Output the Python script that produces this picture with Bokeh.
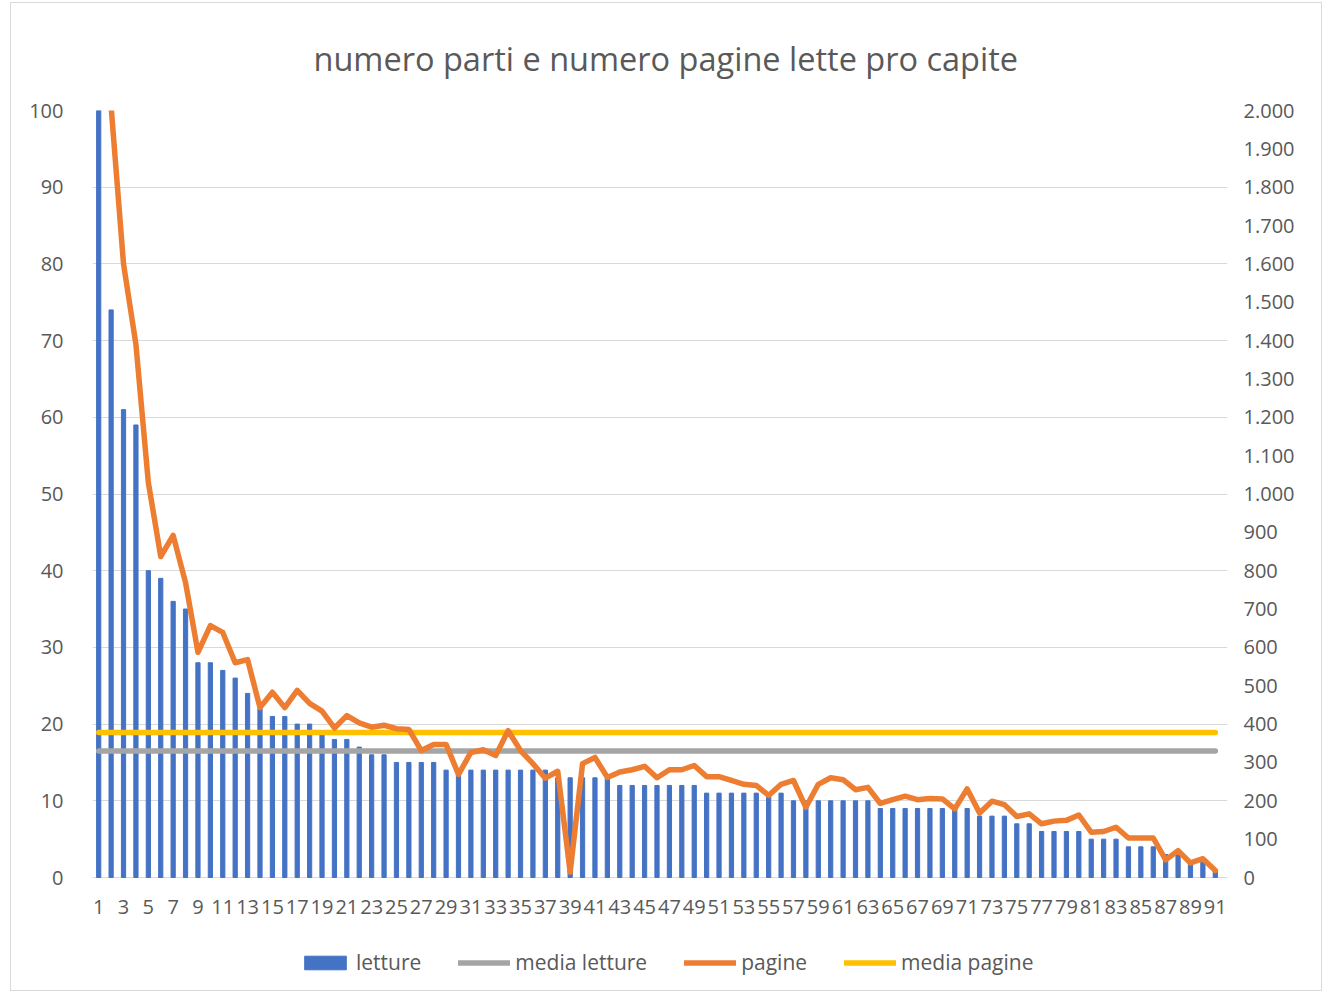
from bokeh.plotting import figure
from bokeh.models import Range1d, LinearAxis, FixedTicker, Legend, LegendItem, Title
from bokeh.embed import file_html
from bokeh.resources import INLINE

# ---------------- data ----------------
categorie = list(range(1, 92))

letture = [160, 74, 61, 59, 40, 39, 36, 35, 28, 28,
           27, 26, 24, 22, 21, 21, 20, 20, 19, 18,
           18, 17, 16, 16, 15, 15, 15, 15, 14, 14,
           14, 14, 14, 14, 14, 14, 14, 13, 13, 13,
           13, 13, 12, 12, 12, 12, 12, 12, 12, 11,
           11, 11, 11, 11, 11, 11, 10, 10, 10, 10,
           10, 10, 10, 9, 9, 9, 9, 9, 9, 9,
           9, 8, 8, 8, 7, 7, 6, 6, 6, 6,
           5, 5, 5, 4, 4, 4, 3, 3, 2, 2,
           1]

pagine = [3280, 2010, 1600, 1390, 1030, 837, 892, 769, 587, 657,
          639, 560, 568, 443, 483, 443, 488, 454, 434, 390,
          422, 403, 392, 397, 388, 386, 331, 347, 347, 269,
          326, 333, 318, 383, 331, 297, 259, 277, 14, 297,
          313, 261, 275, 281, 290, 260, 281, 281, 292, 263,
          263, 253, 243, 240, 214, 243, 253, 183, 243, 260,
          255, 229, 235, 193, 203, 212, 203, 206, 205, 179,
          231, 168, 199, 190, 159, 166, 140, 147, 149, 163,
          118, 120, 131, 103, 103, 103, 46, 70, 38, 49,
          18]

media_letture_valore = 16.5
media_pagine_valore = 378
media_letture = [media_letture_valore] * len(categorie)
media_pagine = [media_pagine_valore] * len(categorie)

left_ticks = list(range(0, 101, 10))
right_ticks = list(range(0, 2001, 100))
right_labels = {t: f"{t:,}".replace(",", ".") for t in right_ticks}
x_ticks = categorie[::2]

titolo = "numero parti e numero pagine lette pro capite"

# ---------------- styles ----------------
FONT = "Open Sans"
TXT = "#595959"
GRID = "#D9D9D9"
BLUE = "#4472C4"
GRAY = "#A5A5A5"
ORANGE = "#ED7D31"
YELLOW = "#FFC000"

# plot area: 767 px for the value axis, plus 113 px below zero for labels/legend
AREA_PX = 767
BELOW_PX = 113
AREA_W = 1129
EXTRA_W = 6          # room so that the last category label is not cut
y_low = -100 * BELOW_PX / AREA_PX
y2_low = -2000 * BELOW_PX / AREA_PX
x_high = 91.5 + EXTRA_W * 91 / AREA_W

p = figure(frame_width=AREA_W + EXTRA_W, frame_height=AREA_PX + BELOW_PX,
           x_range=Range1d(0.5, x_high), y_range=Range1d(y_low, 100),
           output_backend="svg", toolbar_location=None,
           min_border_left=81, min_border_right=100 - EXTRA_W,
           min_border_top=98, min_border_bottom=0)
p.extra_y_ranges = {"pag": Range1d(y2_low, 2000)}
p.outline_line_color = None
p.background_fill_color = "white"
p.border_fill_color = "white"

p.title = Title(text=titolo, align="left", offset=221, text_font=FONT,
                text_font_size="32.5px", text_color=TXT,
                text_font_style="normal", standoff=60)

# axes
p.yaxis.ticker = FixedTicker(ticks=left_ticks)
p.xaxis.ticker = FixedTicker(ticks=x_ticks)
p.xaxis.fixed_location = 0
right_axis = LinearAxis(y_range_name="pag", ticker=FixedTicker(ticks=right_ticks),
                        major_label_overrides=right_labels)
p.add_layout(right_axis, "right")

for ax in [p.xaxis[0], p.yaxis[0], right_axis]:
    ax.axis_line_color = None
    ax.major_tick_line_color = None
    ax.minor_tick_line_color = None
    ax.major_label_text_font = FONT
    ax.major_label_text_font_size = "20px"
    ax.major_label_text_color = TXT
p.yaxis[0].major_label_standoff = 23
right_axis.major_label_standoff = 16 - EXTRA_W
p.xaxis[0].major_label_standoff = 16

p.xgrid.grid_line_color = None
p.ygrid.grid_line_color = GRID
p.ygrid.grid_line_width = 1
p.ygrid.ticker = FixedTicker(ticks=left_ticks)

# glyphs
r_bar = p.vbar(x=categorie, top=letture, width=0.34, color=BLUE)
r_ml = p.line(categorie, media_letture, color=GRAY, line_width=5.5, line_cap="round")
r_mp = p.line(categorie, media_pagine, color=YELLOW, line_width=5.5, line_cap="round",
              y_range_name="pag")
r_pag = p.line(categorie, pagine, color=ORANGE, line_width=5.5, line_join="round",
               line_cap="round", y_range_name="pag")

legend = Legend(items=[
    LegendItem(label="letture", renderers=[r_bar]),
    LegendItem(label="media letture", renderers=[r_ml]),
    LegendItem(label="pagine", renderers=[r_pag]),
    LegendItem(label="media pagine", renderers=[r_mp]),
], orientation="horizontal", location=(207, 14))
legend.label_text_font = FONT
legend.label_text_font_size = "21px"
legend.label_text_color = TXT
legend.glyph_width = 52
legend.glyph_height = 17
legend.label_standoff = 5
legend.spacing = 37
legend.padding = 0
legend.margin = 0
legend.border_line_color = None
legend.background_fill_alpha = 0
p.add_layout(legend, "center")

p.styles = {"border": "1px solid #D9D9D9", "margin-left": "10px", "margin-top": "2px"}

open("out.html", "w").write(file_html(p, INLINE))
